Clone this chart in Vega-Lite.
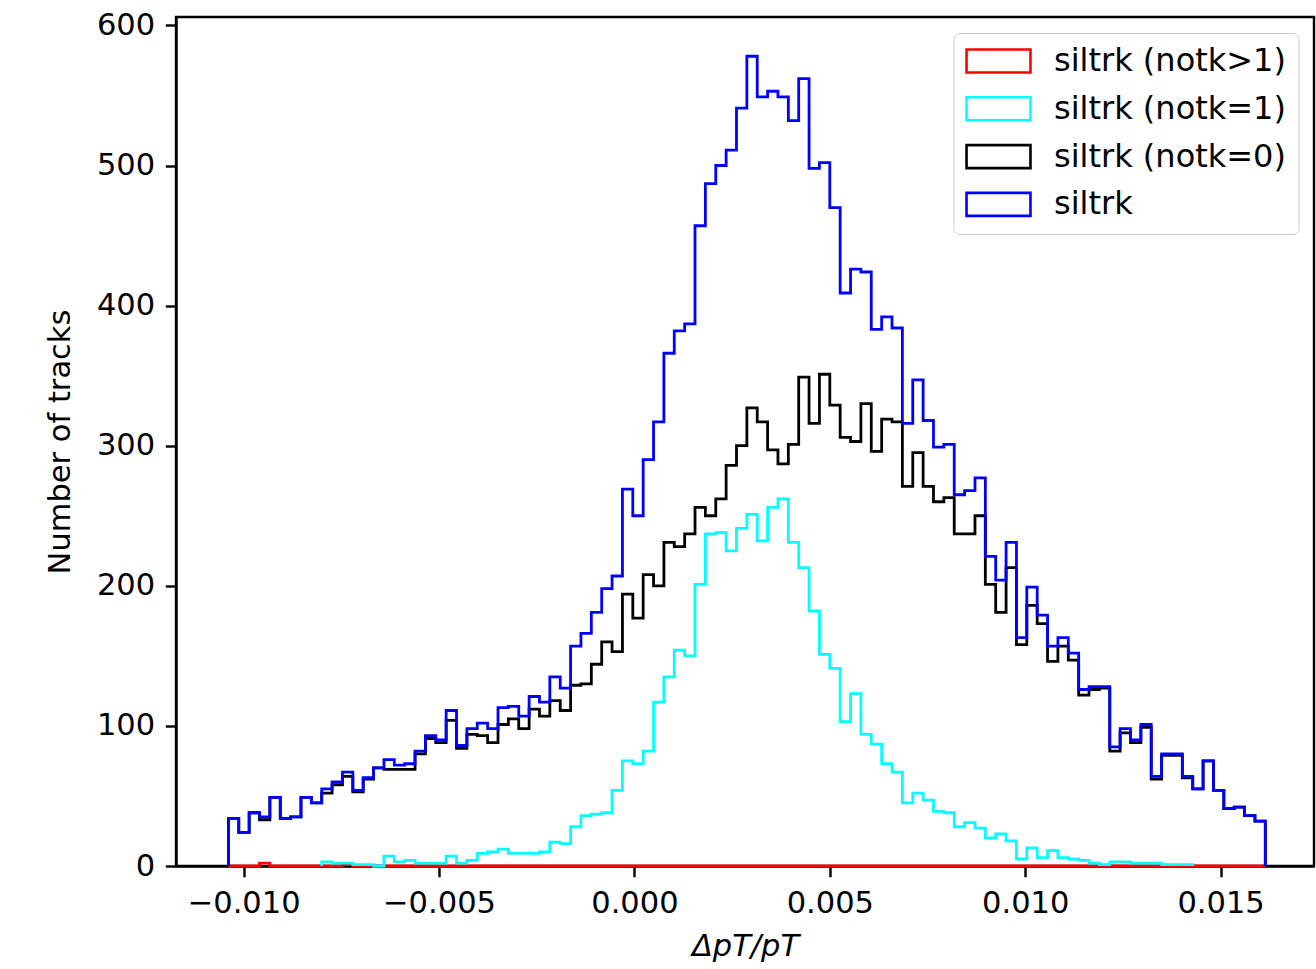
{
  "$schema": "https://vega.github.io/schema/vega-lite/v6.json",
  "width": 1138,
  "height": 849,
  "autosize": {"type": "none"},
  "padding": {"left": 176, "top": 17, "right": 2, "bottom": 103},
  "background": "white",
  "config": {
    "font": "DejaVu Sans",
    "view": {"stroke": "black", "strokeWidth": 2.4},
    "axis": {
      "grid": false,
      "tickSize": 10.7,
      "tickWidth": 2.4,
      "tickColor": "black",
      "domainColor": "black",
      "domainWidth": 2.4,
      "labelFont": "DejaVu Sans",
      "labelFontSize": 30.5,
      "labelColor": "black",
      "labelFlush": false,
      "labelOverlap": false,
      "labelBound": false,
      "titleFont": "DejaVu Sans",
      "titleFontSize": 30.5,
      "titleFontWeight": "normal",
      "titleColor": "black",
      "zindex": 1
    }
  },
  "data": {
    "values": [
      {"i":0,"x":-0.010389,"a":0,"b":null,"c":0,"d":0},
      {"i":1,"x":-0.010389,"a":0,"b":null,"c":34,"d":34},
      {"i":2,"x":-0.010124,"a":0,"b":null,"c":24,"d":24},
      {"i":3,"x":-0.009858,"a":0,"b":null,"c":38,"d":38},
      {"i":4,"x":-0.009593,"a":2,"b":null,"c":33,"d":35},
      {"i":5,"x":-0.009328,"a":0,"b":null,"c":49,"d":49},
      {"i":6,"x":-0.009062,"a":0,"b":null,"c":34,"d":34},
      {"i":7,"x":-0.008797,"a":0,"b":null,"c":35,"d":35},
      {"i":8,"x":-0.008532,"a":0,"b":null,"c":49,"d":49},
      {"i":9,"x":-0.008266,"a":0,"b":null,"c":45,"d":45},
      {"i":9.5,"x":-0.008001,"a":null,"b":0,"c":null,"d":null},
      {"i":10,"x":-0.008001,"a":0,"b":3,"c":52,"d":55},
      {"i":11,"x":-0.007736,"a":0,"b":2,"c":58,"d":60},
      {"i":12,"x":-0.007470,"a":1,"b":2,"c":64,"d":67},
      {"i":13,"x":-0.007205,"a":0,"b":1,"c":53,"d":54},
      {"i":14,"x":-0.006940,"a":0,"b":1,"c":62,"d":63},
      {"i":15,"x":-0.006674,"a":0,"b":0,"c":70,"d":70},
      {"i":16,"x":-0.006409,"a":0,"b":7,"c":69,"d":76},
      {"i":17,"x":-0.006144,"a":0,"b":3,"c":69,"d":72},
      {"i":18,"x":-0.005878,"a":0,"b":4,"c":69,"d":73},
      {"i":19,"x":-0.005613,"a":0,"b":2,"c":80,"d":82},
      {"i":20,"x":-0.005348,"a":0,"b":2,"c":91,"d":93},
      {"i":21,"x":-0.005082,"a":0,"b":2,"c":88,"d":90},
      {"i":22,"x":-0.004817,"a":0,"b":7,"c":104,"d":111},
      {"i":23,"x":-0.004552,"a":0,"b":2,"c":84,"d":86},
      {"i":24,"x":-0.004286,"a":0,"b":4,"c":94,"d":98},
      {"i":25,"x":-0.004021,"a":0,"b":9,"c":93,"d":102},
      {"i":26,"x":-0.003756,"a":0,"b":10,"c":88,"d":98},
      {"i":27,"x":-0.003490,"a":0,"b":12,"c":101,"d":113},
      {"i":28,"x":-0.003225,"a":0,"b":9,"c":105,"d":114},
      {"i":29,"x":-0.002960,"a":0,"b":9,"c":98,"d":107},
      {"i":30,"x":-0.002694,"a":0,"b":9,"c":112,"d":121},
      {"i":31,"x":-0.002429,"a":0,"b":10,"c":107,"d":117},
      {"i":32,"x":-0.002164,"a":0,"b":17,"c":118,"d":135},
      {"i":33,"x":-0.001898,"a":0,"b":16,"c":111,"d":127},
      {"i":34,"x":-0.001633,"a":0,"b":28,"c":129,"d":157},
      {"i":35,"x":-0.001368,"a":0,"b":36,"c":130,"d":166},
      {"i":36,"x":-0.001102,"a":0,"b":37,"c":144,"d":181},
      {"i":37,"x":-0.000837,"a":0,"b":38,"c":160,"d":198},
      {"i":38,"x":-0.000572,"a":0,"b":54,"c":153,"d":207},
      {"i":39,"x":-0.000306,"a":0,"b":75,"c":194,"d":269},
      {"i":40,"x":-0.000041,"a":0,"b":73,"c":177,"d":250},
      {"i":41,"x":0.000224,"a":0,"b":82,"c":208,"d":290},
      {"i":42,"x":0.000490,"a":0,"b":117,"c":200,"d":317},
      {"i":43,"x":0.000755,"a":0,"b":135,"c":231,"d":366},
      {"i":44,"x":0.001020,"a":0,"b":154,"c":228,"d":382},
      {"i":45,"x":0.001286,"a":0,"b":150,"c":237,"d":387},
      {"i":46,"x":0.001551,"a":0,"b":201,"c":256,"d":457},
      {"i":47,"x":0.001816,"a":0,"b":237,"c":250,"d":487},
      {"i":48,"x":0.002082,"a":0,"b":238,"c":262,"d":500},
      {"i":49,"x":0.002347,"a":0,"b":225,"c":286,"d":511},
      {"i":50,"x":0.002612,"a":0,"b":241,"c":300,"d":541},
      {"i":51,"x":0.002878,"a":0,"b":251,"c":327,"d":578},
      {"i":52,"x":0.003143,"a":0,"b":232,"c":317,"d":549},
      {"i":53,"x":0.003408,"a":0,"b":256,"c":297,"d":553},
      {"i":54,"x":0.003673,"a":0,"b":262,"c":287,"d":549},
      {"i":55,"x":0.003939,"a":0,"b":231,"c":301,"d":532},
      {"i":56,"x":0.004204,"a":0,"b":213,"c":349,"d":562},
      {"i":57,"x":0.004469,"a":0,"b":182,"c":316,"d":498},
      {"i":58,"x":0.004735,"a":0,"b":151,"c":351,"d":502},
      {"i":59,"x":0.005000,"a":0,"b":141,"c":329,"d":470},
      {"i":60,"x":0.005265,"a":0,"b":103,"c":306,"d":409},
      {"i":61,"x":0.005531,"a":0,"b":123,"c":303,"d":426},
      {"i":62,"x":0.005796,"a":0,"b":94,"c":330,"d":424},
      {"i":63,"x":0.006061,"a":0,"b":87,"c":296,"d":383},
      {"i":64,"x":0.006327,"a":0,"b":73,"c":319,"d":392},
      {"i":65,"x":0.006592,"a":0,"b":67,"c":317,"d":384},
      {"i":66,"x":0.006857,"a":0,"b":45,"c":271,"d":316},
      {"i":67,"x":0.007123,"a":0,"b":52,"c":295,"d":347},
      {"i":68,"x":0.007388,"a":0,"b":47,"c":271,"d":318},
      {"i":69,"x":0.007653,"a":0,"b":39,"c":260,"d":299},
      {"i":70,"x":0.007919,"a":0,"b":38,"c":263,"d":301},
      {"i":71,"x":0.008184,"a":0,"b":28,"c":237,"d":265},
      {"i":72,"x":0.008449,"a":0,"b":31,"c":237,"d":268},
      {"i":73,"x":0.008715,"a":0,"b":27,"c":250,"d":277},
      {"i":74,"x":0.008980,"a":0,"b":20,"c":201,"d":221},
      {"i":75,"x":0.009245,"a":0,"b":23,"c":181,"d":204},
      {"i":76,"x":0.009511,"a":0,"b":18,"c":213,"d":231},
      {"i":77,"x":0.009776,"a":0,"b":5,"c":158,"d":163},
      {"i":78,"x":0.010041,"a":0,"b":13,"c":186,"d":199},
      {"i":79,"x":0.010307,"a":0,"b":6,"c":173,"d":179},
      {"i":80,"x":0.010572,"a":0,"b":11,"c":146,"d":157},
      {"i":81,"x":0.010837,"a":0,"b":6,"c":157,"d":163},
      {"i":82,"x":0.011103,"a":0,"b":5,"c":147,"d":152},
      {"i":83,"x":0.011368,"a":0,"b":4,"c":122,"d":126},
      {"i":84,"x":0.011633,"a":0,"b":2,"c":126,"d":128},
      {"i":85,"x":0.011899,"a":0,"b":1,"c":127,"d":128},
      {"i":86,"x":0.012164,"a":0,"b":3,"c":82,"d":85},
      {"i":87,"x":0.012429,"a":0,"b":3,"c":95,"d":98},
      {"i":88,"x":0.012695,"a":0,"b":2,"c":88,"d":90},
      {"i":89,"x":0.012960,"a":0,"b":2,"c":99,"d":101},
      {"i":90,"x":0.013225,"a":0,"b":2,"c":62,"d":64},
      {"i":91,"x":0.013491,"a":0,"b":1,"c":79,"d":80},
      {"i":92,"x":0.013756,"a":0,"b":1,"c":79,"d":80},
      {"i":93,"x":0.014021,"a":0,"b":1,"c":63,"d":64},
      {"i":94,"x":0.014287,"a":0,"b":null,"c":55,"d":55},
      {"i":94.5,"x":0.014287,"a":null,"b":1,"c":null,"d":null},
      {"i":94.6,"x":0.014287,"a":null,"b":0,"c":null,"d":null},
      {"i":95,"x":0.014552,"a":0,"b":null,"c":75,"d":75},
      {"i":96,"x":0.014817,"a":0,"b":null,"c":54,"d":54},
      {"i":97,"x":0.015083,"a":0,"b":null,"c":41,"d":41},
      {"i":98,"x":0.015348,"a":0,"b":null,"c":42,"d":42},
      {"i":99,"x":0.015613,"a":0,"b":null,"c":36,"d":36},
      {"i":100,"x":0.015879,"a":0,"b":null,"c":32,"d":32},
      {"i":101,"x":0.016144,"a":0,"b":null,"c":32,"d":32},
      {"i":102,"x":0.016144,"a":0,"b":null,"c":0,"d":0}
    ]
  },
  "transform": [
    {"fold": ["a", "b", "c", "d"], "as": ["s", "n"]},
    {"filter": "datum.n != null"}
  ],
  "encoding": {
    "x": {
      "field": "x",
      "type": "quantitative",
      "scale": {"domain": [-0.01173, 0.01739], "nice": false, "zero": false},
      "axis": {
        "values": [-0.01, -0.005, 0, 0.005, 0.01, 0.015],
        "format": ".3f",
        "title": "ΔpT/pT",
        "titleFontStyle": "italic",
        "labelPadding": 12,
        "titlePadding": 12
      }
    },
    "y": {
      "field": "n",
      "type": "quantitative",
      "scale": {"domain": [0, 606], "nice": false},
      "axis": {
        "values": [0, 100, 200, 300, 400, 500, 600],
        "title": "Number of tracks",
        "labelPadding": 10.7,
        "titlePadding": 21
      }
    },
    "order": {"field": "i", "type": "quantitative"},
    "color": {
      "field": "s",
      "type": "nominal",
      "scale": {"domain": ["a", "b", "c", "d"], "range": ["#ff0000", "#00ffff", "#000000", "#0000ff"]},
      "legend": {
        "title": null,
        "orient": "none",
        "legendX": 777.5,
        "legendY": 16,
        "direction": "vertical",
        "labelExpr": "{'a': 'siltrk (notk>1)', 'b': 'siltrk (notk=1)', 'c': 'siltrk (notk=0)', 'd': 'siltrk'}[datum.value]",
        "symbolType": "M-2.78,-1L2.78,-1L2.78,1L-2.78,1Z",
        "symbolSize": 529,
        "symbolStrokeWidth": 2.6,
        "symbolFillColor": "transparent",
        "symbolOffset": 17,
        "labelOffset": 39.5,
        "labelFont": "DejaVu Sans",
        "labelFontSize": 32,
        "labelColor": "black",
        "labelLimit": 0,
        "rowPadding": 13.8,
        "padding": 12,
        "strokeColor": "#cccccc",
        "fillColor": "rgba(255,255,255,0.8)",
        "cornerRadius": 6
      }
    }
  },
  "layer": [
    {"transform": [{"filter": "datum.s === 'a'"}], "mark": {"type": "line", "interpolate": "step-after", "strokeWidth": 2.8}},
    {"transform": [{"filter": "datum.s === 'b'"}], "mark": {"type": "line", "interpolate": "step-after", "strokeWidth": 2.8}},
    {"transform": [{"filter": "datum.s === 'c'"}], "mark": {"type": "line", "interpolate": "step-after", "strokeWidth": 2.8}},
    {"transform": [{"filter": "datum.s === 'd'"}], "mark": {"type": "line", "interpolate": "step-after", "strokeWidth": 2.8}}
  ]
}
